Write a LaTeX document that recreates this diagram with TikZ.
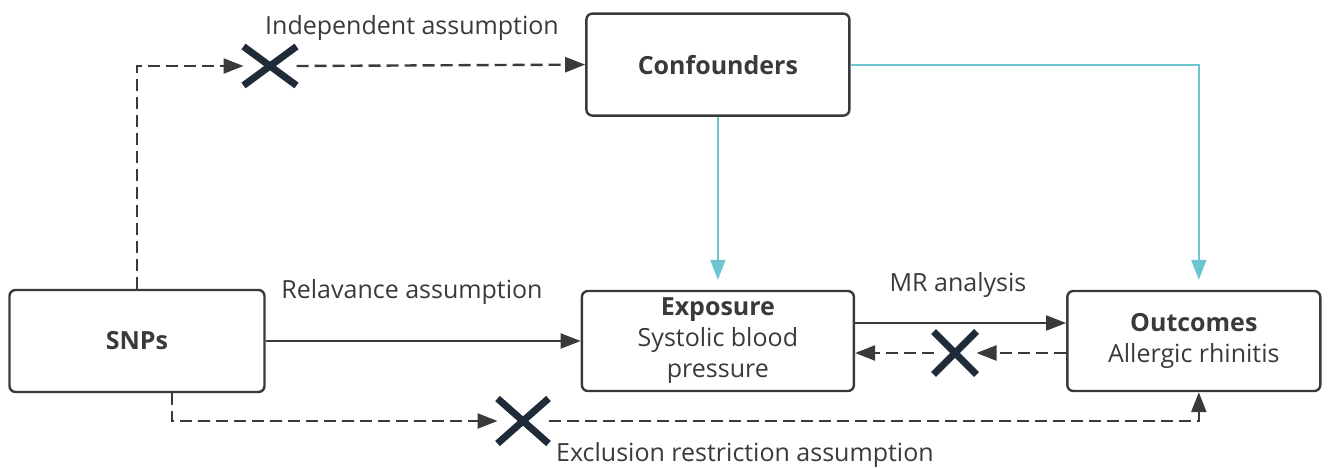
\documentclass[tikz,border=0pt]{standalone}
\usepackage{fontspec}
\setmainfont{Open Sans}
\usetikzlibrary{positioning, arrows.meta, shapes.misc}
\definecolor{linegray}{HTML}{3A3A3A}
\definecolor{confcyan}{HTML}{6CC5D1}
\definecolor{crossnavy}{HTML}{1F2B38}

\begin{document}
\begin{tikzpicture}[
  every node/.style={font=\fontsize{12.5}{15.5}\selectfont, text=linegray},
  box/.style={draw=linegray, line width=1.2pt, rounded corners=3pt,
              align=center, inner sep=0pt},
  arr/.style={-{Triangle[length=10pt, width=7.5pt]}, draw=linegray,
              line width=1pt},
  dasharr/.style={arr, line width=1.2pt, dash pattern=on 6pt off 3pt},
  cyanarr/.style={arr, draw=confcyan, shorten >=5pt},
  cross/.style={cross out, draw=crossnavy, line width=3.5pt,
                minimum width=22pt, minimum height=19pt, inner sep=0pt}
]
\useasboundingbox (0,0) rectangle (666pt,-233.5pt);

% boxes
\node[box, minimum width=127.5pt, minimum height=51pt] (snps)
  at (68.5pt,-170.5pt) {\textbf{SNPs}};
\node[box, minimum width=136pt, minimum height=50pt, right=157.5pt of snps]
  (exp) {\textbf{Exposure}\\Systolic blood\\pressure};
\node[box, minimum width=126.5pt, minimum height=50pt, right=105.5pt of exp]
  (out) {\textbf{Outcomes}\\Allergic rhinitis};
\node[box, minimum width=131.5pt, minimum height=51pt, above=86.5pt of exp]
  (conf) {\textbf{Confounders}};

% violated paths
\node[cross, minimum width=23pt, minimum height=16pt] (xind) at (135pt,-33pt) {};
\node[cross, minimum width=18pt, minimum height=18pt] (xrev) at (477.5pt,-176.5pt) {};
\node[cross] (xexc) at (261.5pt,-210.5pt) {};

% independent assumption
\draw[dasharr] (snps.north) |- (xind.west);
\draw[dasharr] (xind.east) -- (conf.west);
\node at (206pt,-14pt) {Independent assumption};

% confounders
\draw[cyanarr] (conf.south) -- (exp.north);
\draw[cyanarr] (conf.east) -| ([xshift=2.5pt]out.north);

% relevance assumption
\draw[arr] (snps.east) -- (exp.west);
\node at (206pt,-146pt) {Relavance assumption};

% MR analysis
\draw[arr] ([yshift=9pt]exp.east) -- ([yshift=9pt]out.west);
\node at (479pt,-142.5pt) {MR analysis};
\draw[dasharr] ([yshift=-6pt]out.west) -- (xrev.east);
\draw[dasharr] (xrev.west) -- ([yshift=-6pt]exp.east);

% exclusion restriction
\draw[dasharr] ([xshift=17.5pt]snps.south) |- (xexc.west);
\draw[dasharr] (xexc.east) -| ([xshift=2.5pt]out.south);
\node at (372.5pt,-227.5pt) {Exclusion restriction assumption};
\end{tikzpicture}
\end{document}
